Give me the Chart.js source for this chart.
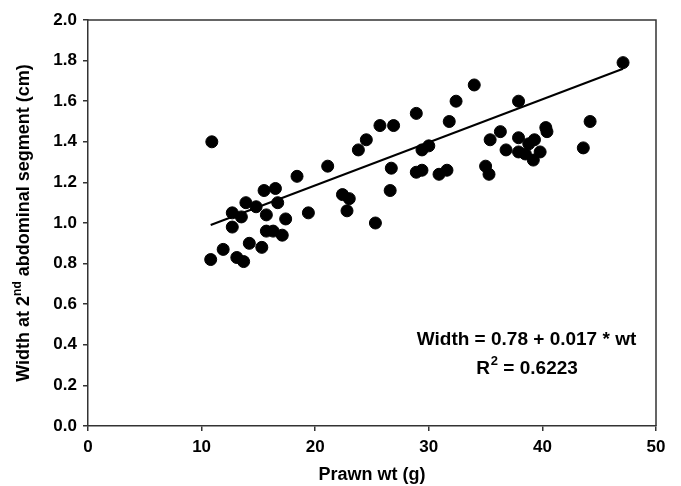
<!DOCTYPE html>
<html>
<head>
<meta charset="utf-8">
<script src="https://cdn.jsdelivr.net/npm/chart.js@4"></script>
<style>
  body { margin: 0; background: #fff; }
</style>
</head>
<body>
<canvas id="myChart" width="681" height="486"></canvas>
<script>
const prawnWt = [
  10.9, 10.8, 11.9, 12.7, 12.7, 13.5, 13.1, 13.7, 13.9, 14.2,
  14.8, 15.3, 15.5, 15.7, 15.7, 16.3, 16.5, 16.7, 17.1, 17.4,
  18.4, 19.4, 21.1, 22.4, 23.0, 22.8, 23.8, 24.5, 25.3, 25.7,
  26.9, 26.7, 26.6, 28.9, 32.4, 34.0, 31.8, 37.9, 47.1, 44.2,
  43.6, 29.4, 30.0, 28.9, 29.4, 30.9, 31.6, 35.0, 35.3, 35.4,
  36.3, 36.8, 37.9, 37.9, 38.5, 38.8, 39.3, 39.2, 39.8, 40.3, 40.4
];
const segWidth = [
  1.40, 0.82, 0.87, 1.05, 0.98, 1.03, 0.83, 0.81, 1.10, 0.90,
  1.08, 0.88, 1.16, 1.04, 0.96, 0.96, 1.17, 1.10, 0.94, 1.02,
  1.23, 1.05, 1.28, 1.14, 1.12, 1.06, 1.36, 1.41, 1.00, 1.48,
  1.48, 1.27, 1.16, 1.54, 1.60, 1.68, 1.50, 1.60, 1.79, 1.50,
  1.37, 1.36, 1.38, 1.25, 1.26, 1.24, 1.26, 1.28, 1.24, 1.41,
  1.45, 1.36, 1.42, 1.35, 1.34, 1.39, 1.41, 1.31, 1.35, 1.47, 1.45
];
// fitted line as drawn in the figure
const fitX = [10.8, 47.1];
const fitY = [0.99, 1.76];

const eqLine1 = 'Width = 0.78 + 0.017 * wt';
const eqR2 = '0.6223';
const xTitle = 'Prawn wt (g)';

const FONT = '"Liberation Sans", Arial, Helvetica, sans-serif';
const AXIS = '#333';

const labelsPlugin = {
  id: 'labels',
  afterDraw(chart) {
    const {ctx, chartArea: a, scales} = chart;
    ctx.save();
    // top and right frame
    ctx.strokeStyle = AXIS;
    ctx.lineWidth = 1.5;
    ctx.beginPath();
    ctx.moveTo(a.left, a.top);
    ctx.lineTo(a.right, a.top);
    ctx.lineTo(a.right, a.bottom);
    ctx.stroke();

    ctx.fillStyle = '#000';
    ctx.textBaseline = 'alphabetic';

    // y title with superscript
    const p1 = 'Width at 2', sup = 'nd', p2 = ' abdominal segment (cm)';
    ctx.font = 'bold 18px ' + FONT;
    const w1 = ctx.measureText(p1).width, w3 = ctx.measureText(p2).width;
    ctx.font = 'bold 12px ' + FONT;
    const w2 = ctx.measureText(sup).width;
    ctx.translate(23, (a.top + a.bottom) / 2);
    ctx.rotate(-Math.PI / 2);
    let x0 = -(w1 + w2 + w3) / 2;
    ctx.font = 'bold 18px ' + FONT;
    ctx.fillText(p1, x0, 6);
    ctx.font = 'bold 12px ' + FONT;
    ctx.fillText(sup, x0 + w1, -2);
    ctx.font = 'bold 18px ' + FONT;
    ctx.fillText(p2, x0 + w1 + w2, 6);
    ctx.setTransform(1, 0, 0, 1, 0, 0);

    // equation
    const cx = scales.x.getPixelForValue(38.6);
    ctx.font = 'bold 19px ' + FONT;
    ctx.textAlign = 'center';
    ctx.fillText(eqLine1, cx, scales.y.getPixelForValue(0.432) + 7);
    const r = 'R', rest = ' = ' + eqR2;
    const wr = ctx.measureText(r).width, wrest = ctx.measureText(rest).width;
    ctx.font = 'bold 13px ' + FONT;
    const ws = ctx.measureText('2').width;
    ctx.textAlign = 'left';
    const y2 = scales.y.getPixelForValue(0.289) + 7;
    let rx = cx - (wr + ws + wrest) / 2;
    ctx.font = 'bold 19px ' + FONT;
    ctx.fillText(r, rx, y2);
    ctx.font = 'bold 13px ' + FONT;
    ctx.fillText('2', rx + wr + 1, y2 - 9);
    ctx.font = 'bold 19px ' + FONT;
    ctx.fillText(rest, rx + wr + ws + 1, y2);
    ctx.restore();
  }
};

const points = prawnWt.map((x, i) => ({x: x, y: segWidth[i]}));
const fit = fitX.map((x, i) => ({x: x, y: fitY[i]}));

const config = {
  type: 'scatter',
  data: {
    datasets: [{
      label: 'Width',
      data: points,
      backgroundColor: '#000',
      borderColor: '#000',
      pointRadius: 6,
      pointHoverRadius: 6,
    }, {
      type: 'line',
      label: 'Fit',
      data: fit,
      borderColor: '#000',
      borderWidth: 2,
      pointRadius: 0,
      fill: false,
    }]
  },
  options: {
    responsive: false,
    animation: false,
    layout: { padding: { left: 0, right: 25, top: 20, bottom: 0 } },
    plugins: {
      legend: { display: false },
      tooltip: { enabled: false }
    },
    scales: {
      x: {
        type: 'linear',
        min: 0,
        max: 50,
        ticks: {
          stepSize: 10,
          padding: 6,
          color: '#000',
          font: { family: FONT, size: 17, weight: 'bold' }
        },
        grid: { drawOnChartArea: false, drawTicks: true, tickLength: 5, color: AXIS, lineWidth: 1.5 },
        border: { color: AXIS, width: 1.5 },
        title: {
          display: true,
          text: xTitle,
          color: '#000',
          padding: { top: 0, bottom: 0 },
          font: { family: FONT, size: 18, weight: 'bold' }
        },
        afterFit(scale) { scale.height = 60; }
      },
      y: {
        min: 0,
        max: 2,
        ticks: {
          stepSize: 0.2,
          padding: 6,
          color: '#000',
          font: { family: FONT, size: 17, weight: 'bold' },
          callback: (v) => v.toFixed(1)
        },
        grid: { drawOnChartArea: false, drawTicks: true, tickLength: 5, color: AXIS, lineWidth: 1.5 },
        border: { color: AXIS, width: 1.5 },
        afterFit(scale) { scale.width = 88; }
      }
    }
  },
  plugins: [labelsPlugin]
};

const myChart = new Chart(document.getElementById('myChart'), config);
</script>
</body>
</html>
